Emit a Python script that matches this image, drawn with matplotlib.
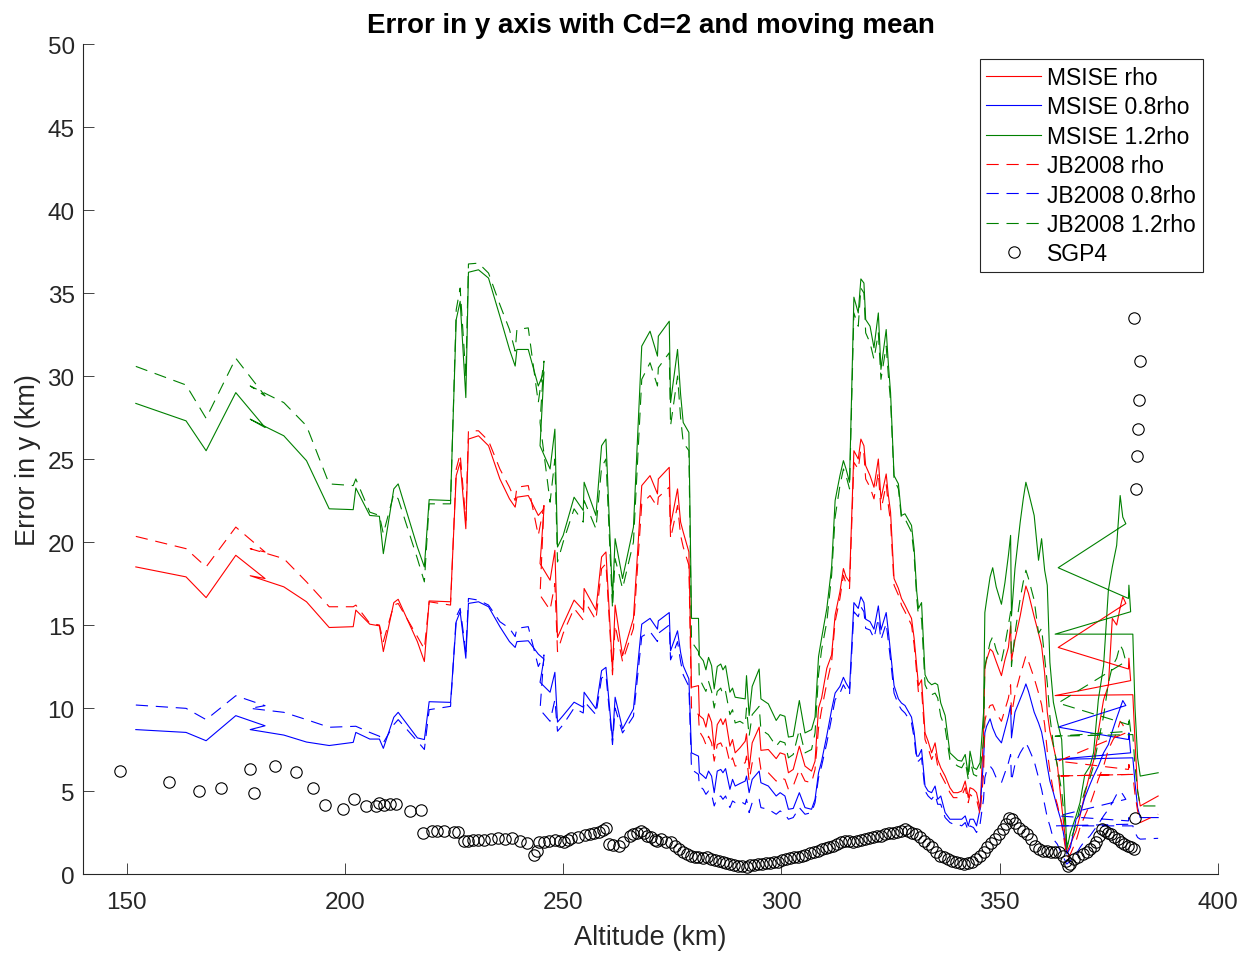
import matplotlib.pyplot as plt

plt.rcParams['font.family'] = ['Liberation Sans', 'DejaVu Sans']

# Moving-mean altitude (km) shared by the six density runs
alt = [
    # 150-225 km
    152.1, 163.6, 168.2, 175.0, 181.7, 178.3, 186.0, 191.2, 196.4, 201.9,
    202.5, 205.7, 207.9, 208.8, 211.2, 212.2, 216.6, 218.2, 219.3, 224.2,
    # 225-281 km
    225.5, 226.4, 227.7, 228.3, 230.6, 232.9, 235.5, 237.7, 239.0, 239.4,
    242.0, 244.3, 245.6, 244.7, 247.0, 248.1, 248.7, 250.0, 252.5, 254.6,
    254.8, 257.5, 258.8, 259.8, 261.3, 261.9, 263.6, 266.1, 268.0, 269.9,
    271.6, 271.8, 274.3, 274.6, 276.2, 276.9, 277.5, 278.8, 279.4, 281.0,
    # 281-311 km
    281.2, 282.1, 282.7, 283.3, 284.0, 284.6, 285.3, 286.1, 286.6, 287.2,
    288.2, 288.8, 289.4, 290.5, 291.7, 292.0, 292.6, 293.3, 294.9, 295.3,
    297.0, 298.8, 299.7, 300.8, 301.6, 302.7, 304.1, 305.4, 306.9, 307.7,
    308.5, 309.2, 310.4,
    # 311-331 km
    311.5, 312.3, 313.4, 314.2, 314.8, 315.6, 316.6, 317.6, 318.2, 318.9,
    319.3, 320.3, 321.2, 322.2, 322.8, 324.0, 324.5, 325.0, 325.8, 326.8,
    327.5, 328.3, 329.8, 330.4, 331.0,
    # 331-365 km
    331.4, 332.1, 332.9, 333.6, 334.4, 335.2, 335.8, 336.5, 337.5, 338.6,
    339.4, 340.4, 341.3, 342.1, 342.8, 343.2, 344.0, 344.7, 345.5, 346.3,
    346.6, 347.0, 347.8, 348.4, 349.2, 350.4, 351.2, 352.0, 352.5, 352.7,
    353.5, 354.7, 355.4, 356.0, 356.6, 357.9, 358.9, 359.6, 360.3, 360.9,
    361.5, 362.3, 363.2, 364.2, 365.4,
    # end of arc, altitude jumps back and forth
    366.2, 367.5, 368.4, 369.5, 370.7, 371.5, 372.6, 373.8, 374.9, 375.8,
    376.8, 377.6, 378.2, 378.9, 363.4, 379.5, 379.6, 380.0, 362.7, 380.5,
    381.0, 381.6, 382.2, 386.3,
]

msise_rho = [
    18.5, 17.9, 16.65, 19.2, 17.8, 17.97, 17.3, 16.4, 14.85, 14.9,
    15.9, 15.05, 14.95, 13.4, 16.35, 16.55, 14.0, 12.8, 16.45, 16.4,
    24.0, 24.8, 20.8, 26.2, 26.4, 25.8, 23.8, 22.6, 22.1, 22.7,
    22.8, 21.6, 22.0, 18.7, 17.7, 19.5, 14.25, 15.05, 16.5, 15.9,
    17.2, 15.9, 19.1, 19.4, 12.25, 16.2, 13.15, 15.4, 23.4, 24.0,
    22.9, 23.8, 24.5, 21.0, 23.2, 21.2, 20.6, 19.4, 11.25, 11.35,
    9.55, 9.35, 8.85, 9.65, 9.15, 7.5, 9.0, 9.35, 9.0, 9.35,
    7.7, 8.1, 7.3, 7.6, 8.0, 8.45, 6.35, 7.9, 8.85, 7.45,
    7.5, 6.95, 7.3, 7.2, 6.1, 6.3, 7.7, 6.5, 6.2, 6.8,
    10.0, 10.6, 12.4,
    13.2, 15.6, 17.0, 18.4, 17.9, 17.6, 25.5, 25.0, 26.2, 25.8,
    24.6, 24.0, 23.3, 25.0, 22.6, 24.1, 22.8, 21.8, 17.8, 17.2,
    16.6, 16.2, 15.4, 14.2, 12.5,
    11.35, 11.7, 8.5, 8.0, 7.3, 7.9, 6.9, 6.4, 5.9, 5.2,
    4.9, 4.9, 5.0, 5.6, 4.6, 5.2, 5.1, 4.9, 3.9, 8.5,
    12.35, 12.9, 13.55, 13.4, 12.8, 11.95, 12.9, 13.65, 14.95, 12.85,
    14.1, 15.55, 16.55, 17.35, 16.9, 15.5, 14.5, 13.75, 12.1, 9.75,
    8.6, 7.7, 6.6, 4.1, 1.3,
    1.8, 2.6, 3.5, 4.8, 6.1, 6.8, 8.6, 10.5, 11.35, 15.4,
    15.0, 16.05, 16.7, 16.3, 13.65, 12.35, 13.0, 11.65, 10.75, 10.8,
    8.0, 5.0, 4.1, 4.7,
]

msise_08 = [
    8.7, 8.53, 8.03, 9.54, 8.93, 8.7, 8.37, 7.95, 7.74, 7.93,
    8.53, 8.13, 8.13, 7.57, 9.44, 9.74, 8.2, 8.1, 10.38, 10.34,
    15.2, 15.8, 13.0, 16.3, 16.4, 16.1, 14.9, 14.0, 13.65, 14.0,
    14.05, 13.25, 12.95, 11.55, 10.95, 12.15, 9.15, 9.55, 10.35, 10.05,
    10.95, 9.95, 12.25, 12.45, 8.05, 10.65, 8.75, 9.95, 15.05, 15.4,
    14.75, 15.25, 15.75, 13.45, 14.65, 13.35, 12.55, 11.75, 7.3, 7.1,
    6.1, 5.9, 5.75, 6.2, 5.9, 4.9, 6.2, 6.3, 6.1, 6.35,
    5.1, 5.7, 5.3, 5.45, 5.6, 5.9, 4.9, 5.7, 6.2, 5.5,
    5.3, 4.7, 4.9, 4.7, 3.9, 3.95, 4.9, 4.0, 3.9, 4.5,
    6.1, 6.8, 8.35,
    9.9, 10.9, 11.3, 11.85, 11.5, 11.15, 16.35, 16.0, 16.7, 16.35,
    15.35, 15.2, 14.75, 16.15, 14.7, 15.75, 14.6, 13.35, 11.35, 10.55,
    10.3, 10.15, 9.45, 8.55, 7.1,
    7.1, 7.5, 5.3, 5.0, 4.9, 5.3, 4.5, 4.7, 3.7, 3.3,
    3.3, 3.3, 3.3, 3.5, 2.9, 3.3, 3.3, 2.9, 3.9, 6.9,
    8.5, 8.9, 9.35, 8.8, 8.3, 7.9, 8.7, 9.5, 10.15, 8.2,
    9.75, 10.55, 11.0, 11.45, 11.0, 9.75, 9.1, 8.55, 7.55, 6.5,
    5.6, 4.9, 4.0, 3.1, 1.2,
    1.6, 3.3, 3.6, 4.6, 5.4, 5.9, 6.5, 7.3, 7.8, 8.6,
    9.4, 10.0, 10.45, 10.15, 8.85, 8.1, 8.5, 7.3, 6.9, 7.0,
    5.5, 4.0, 3.4, 3.4,
]

msise_12 = [
    28.35, 27.3, 25.5, 29.0, 26.9, 27.4, 26.4, 24.9, 22.0, 21.95,
    23.25, 21.6, 21.55, 19.3, 23.2, 23.5, 19.7, 18.5, 22.55, 22.5,
    33.4, 34.5, 28.7, 36.25, 36.4, 35.9, 33.6, 31.6, 30.6, 31.6,
    31.6, 29.4, 30.25, 25.8, 24.4, 26.8, 19.7, 20.4, 22.7, 21.9,
    23.6, 21.6, 25.8, 26.2, 16.6, 20.2, 17.8, 20.9, 31.8, 32.7,
    31.2, 32.4, 33.3, 28.4, 31.6, 28.9, 27.2, 26.6, 15.4, 15.4,
    13.15, 12.85, 12.3, 13.05, 12.55, 11.15, 12.5, 12.65, 12.3, 12.55,
    10.95, 11.2, 10.65, 10.6, 10.55, 11.95, 9.55, 11.3, 12.35, 10.55,
    10.25, 9.25, 9.6, 9.5, 8.25, 8.3, 10.45, 8.5, 8.7, 9.45,
    13.1, 14.2, 16.0,
    18.5, 22.5, 24.0, 24.9, 24.4, 23.6, 34.75, 33.8, 35.85, 35.6,
    33.4, 33.0, 31.7, 33.8, 30.4, 32.8, 30.7, 29.0, 24.0, 23.5,
    21.6, 21.7, 21.0, 19.6, 17.0,
    16.0, 16.35, 12.0, 11.6, 11.4, 11.5, 11.4, 10.3, 9.55, 7.3,
    7.1, 6.85, 6.8, 7.2, 6.0, 7.4, 6.4, 6.3, 6.7, 9.7,
    15.75, 16.5, 17.9, 18.45, 17.3, 16.25, 17.55, 19.2, 20.4, 15.55,
    18.4, 21.2, 22.6, 23.6, 23.0, 21.6, 18.9, 20.2, 18.3, 17.4,
    12.75, 10.35, 9.2, 8.1, 1.5,
    2.5, 3.5, 4.3, 6.0, 6.5, 7.3, 10.5, 12.55, 17.1, 18.5,
    19.8, 22.8, 21.5, 21.1, 18.45, 16.6, 17.4, 15.8, 14.45, 14.45,
    10.0, 7.0, 5.9, 6.1,
]

jb_rho = [
    20.34, 19.6, 18.5, 20.9, 19.4, 19.6, 19.0, 17.6, 16.1, 16.1,
    16.2, 15.1, 15.0, 14.0, 16.2, 16.3, 14.3, 13.55, 16.4, 16.2,
    24.4, 25.3, 21.3, 26.7, 26.7, 26.1, 24.4, 23.3, 22.5, 23.3,
    23.4, 20.4, 22.2, 16.8, 15.9, 17.5, 13.4, 14.5, 16.0, 15.3,
    16.5, 15.3, 18.4, 18.7, 12.0, 15.0, 12.8, 14.8, 22.3, 22.8,
    22.1, 22.7, 23.3, 20.2, 22.2, 20.4, 19.7, 18.6, 10.0, 9.6,
    8.6, 8.2, 7.8, 8.3, 7.9, 6.8, 7.8, 7.9, 7.6, 7.8,
    6.7, 7.0, 6.5, 6.6, 6.7, 7.1, 5.6, 6.7, 7.0, 6.3,
    6.1, 5.6, 5.8, 5.7, 5.1, 5.3, 6.3, 5.6, 5.5, 6.3,
    8.8, 9.9, 11.5,
    12.8, 15.2, 16.6, 18.0, 17.5, 17.2, 24.8, 24.4, 25.6, 25.3,
    23.8, 23.3, 22.6, 24.2, 21.9, 23.5, 22.2, 21.2, 17.4, 16.8,
    16.2, 15.8, 15.0, 13.8, 12.1,
    10.9, 11.1, 8.1, 7.6, 6.9, 7.4, 6.5, 6.0, 5.5, 4.9,
    4.6, 4.6, 4.7, 5.2, 4.3, 4.8, 4.6, 4.5, 3.6, 6.0,
    9.2, 9.7, 10.15, 10.2, 9.7, 9.2, 9.9, 10.6, 11.4, 9.6,
    10.8, 12.0, 12.6, 13.15, 12.8, 11.8, 10.9, 10.2, 9.0, 7.4,
    6.2, 5.0, 4.2, 3.0, 1.0,
    1.2, 2.0, 2.8, 3.5, 4.2, 4.8, 5.7, 6.5, 7.5, 8.0,
    8.5, 9.2, 9.0, 8.5, 6.8, 6.3, 6.6, 6.0, 5.9, 6.0,
    4.8, 3.8, 3.1, 3.6,
]

jb_08 = [
    10.18, 9.98, 9.3, 10.74, 10.14, 9.98, 9.74, 9.3, 8.84, 8.9,
    8.9, 8.53, 8.3, 7.9, 9.0, 9.3, 8.0, 7.5, 9.9, 10.1,
    15.5, 16.0, 13.4, 16.6, 16.5, 16.2, 15.2, 14.8, 14.3, 14.8,
    14.9, 12.5, 13.2, 9.9, 9.2, 10.5, 8.6, 9.0, 10.0, 9.7,
    10.4, 9.6, 11.8, 12.0, 7.8, 10.0, 8.5, 9.5, 14.3, 14.6,
    14.0, 14.5, 15.0, 12.9, 14.0, 12.8, 12.0, 11.3, 6.3, 6.0,
    5.3, 5.1, 4.8, 5.0, 4.8, 4.1, 4.6, 4.7, 4.5, 4.7,
    4.0, 4.4, 4.3, 4.4, 4.2, 4.5, 3.7, 4.3, 4.5, 4.0,
    3.9, 3.6, 3.8, 3.6, 3.3, 3.4, 4.0, 3.6, 3.7, 4.3,
    5.8, 6.5, 7.9,
    9.4, 10.5, 10.9, 11.4, 11.1, 10.8, 15.8, 15.5, 16.1, 15.8,
    14.8, 14.7, 14.2, 15.4, 14.1, 15.1, 14.0, 12.9, 10.9, 10.2,
    9.9, 9.7, 9.1, 8.2, 6.8,
    6.8, 7.0, 5.0, 4.7, 4.5, 4.8, 4.2, 4.2, 3.4, 3.1,
    3.0, 3.0, 2.9, 3.1, 2.6, 2.9, 2.8, 2.5, 3.0, 4.5,
    5.8, 6.2, 6.5, 6.3, 5.8, 5.5, 6.1, 6.7, 7.2, 5.6,
    6.6, 7.3, 7.6, 7.9, 7.6, 6.8, 5.8, 5.1, 4.2, 3.4,
    2.9, 2.1, 1.8, 1.2, 0.6,
    0.8, 1.2, 1.6, 2.0, 2.3, 2.6, 3.0, 3.5, 3.9, 4.3,
    4.8, 5.0, 4.8, 4.5, 3.5, 3.2, 3.4, 3.0, 2.9, 2.9,
    2.5, 2.2, 2.1, 2.15,
]

jb_12 = [
    30.58, 29.46, 27.45, 31.07, 28.8, 29.4, 28.4, 27.0, 23.5, 23.4,
    23.8, 21.8, 21.6, 20.5, 22.9, 22.6, 19.0, 17.6, 22.3, 22.3,
    34.0, 35.3, 30.0, 36.75, 36.8, 36.2, 34.3, 32.8, 31.5, 32.8,
    32.9, 28.4, 30.9, 27.2, 22.4, 25.0, 18.8, 20.0, 22.0, 21.2,
    22.5, 20.8, 24.5, 25.0, 16.0, 19.0, 17.2, 20.0, 29.8, 30.8,
    29.4, 30.5, 31.4, 27.0, 30.0, 27.5, 26.0, 25.5, 14.0, 13.4,
    11.8, 11.3, 11.0, 11.6, 11.0, 10.0, 11.0, 11.2, 10.8, 11.0,
    9.6, 9.9, 9.1, 9.2, 9.0, 10.0, 8.3, 9.6, 10.1, 8.7,
    8.4, 7.7, 8.0, 7.9, 7.0, 7.2, 8.7, 7.3, 7.5, 8.5,
    12.0, 13.5, 15.2,
    18.0, 21.5, 23.4, 24.4, 24.0, 23.2, 33.8, 33.0, 35.3, 35.0,
    32.6, 32.0, 31.0, 32.6, 29.8, 31.8, 30.0, 28.5, 23.8, 23.2,
    21.4, 21.4, 20.6, 19.2, 16.6,
    15.5, 15.4, 11.4, 11.0, 10.8, 10.9, 10.6, 9.5, 8.8, 6.9,
    6.7, 6.5, 6.4, 6.8, 5.7, 6.9, 6.0, 5.9, 6.2, 8.0,
    12.5, 13.0, 13.95, 14.3, 13.5, 12.8, 13.8, 15.0, 15.8, 12.5,
    14.5, 16.6, 17.6, 18.3, 17.8, 16.5, 14.5, 14.8, 13.0, 11.5,
    9.5, 7.8, 6.5, 5.0, 1.8,
    2.0, 3.0, 4.0, 5.0, 5.8, 6.5, 8.0, 9.5, 11.5, 12.5,
    13.0, 13.8, 13.5, 12.8, 10.3, 9.0, 9.5, 8.6, 8.3, 8.4,
    6.5, 5.0, 4.1, 4.1,
]

# SGP4 error at the TLE epochs
sgp4_alt = [
    148.5, 159.7, 166.5, 171.5, 178.3, 179.2, 184.0, 188.7, 192.7, 195.4,
    199.6, 202.0, 204.8, 207.1, 207.9, 209.0, 210.3, 211.7, 214.8, 217.5,
    218.0, 219.9, 221.2, 222.8, 225.1, 225.9, 227.3, 228.2, 229.3, 230.5,
    231.8, 233.5, 235.1, 236.7, 238.3, 240.0, 241.6, 243.4, 243.9, 244.4,
    245.5, 246.8, 248.1, 249.2, 250.2, 251.0, 251.8, 253.5, 255.1, 256.2,
    257.1, 258.3, 259.2, 259.8, 260.4, 261.5, 262.9, 263.8, 265.3, 266.1,
    266.9, 267.8, 268.6, 269.3, 270.1, 271.0, 271.6, 272.5, 273.5, 274.8,
    275.6, 276.6, 277.5, 278.4, 279.3, 280.2, 281.0, 282.0, 282.9, 283.8,
    284.7, 285.6, 286.5, 287.4, 288.3, 289.2, 290.1, 291.0, 292.0, 292.9,
    293.8, 294.7, 295.6, 296.5, 297.4, 298.3, 299.2, 300.1, 301.0, 301.9,
    302.8, 303.7, 304.6, 305.5, 306.5, 307.4, 308.3, 309.2, 310.1, 311.0,
    311.9, 312.8, 313.7, 314.6, 315.5, 316.4, 317.3, 318.2, 319.1, 320.0,
    321.0, 321.9, 322.8, 323.7, 324.6, 325.5, 326.4, 327.3, 328.2, 329.1,
    330.0, 330.9, 331.8, 332.7, 333.6, 334.5, 335.4, 336.3, 337.2, 338.2,
    339.1, 340.0, 340.9, 341.8, 342.7, 343.6, 344.5, 345.4, 346.3, 347.2,
    348.1, 349.0, 349.9, 350.8, 351.5, 352.2, 352.9, 353.6, 354.4, 355.3,
    356.3, 357.2, 358.1, 359.0, 359.9, 360.8, 361.7, 362.6, 363.5, 364.4,
    365.3, 365.6, 366.2, 367.1, 368.0, 369.0, 369.9, 370.8, 371.5, 372.1,
    372.8, 373.5, 374.2, 374.9, 375.5, 376.2, 377.0, 377.8, 378.5, 379.3,
    380.0, 380.7, 380.9, 381.2, 381.4, 381.8, 381.9, 382.2, 380.8, 385.6,
]

sgp4_err = [
    6.19, 5.52, 5.0, 5.18, 6.34, 4.88, 6.49, 6.16, 5.18, 4.18,
    3.92, 4.5, 4.11, 4.11, 4.28, 4.15, 4.19, 4.19, 3.8, 3.87,
    2.47, 2.61, 2.6, 2.61, 2.55, 2.51, 2.01, 2.0, 2.07, 2.03,
    2.07, 2.1, 2.19, 2.1, 2.15, 2.0, 1.87, 1.14, 1.4, 1.94,
    1.95, 2.0, 2.07, 2.0, 1.94, 2.05, 2.15, 2.2, 2.35, 2.4,
    2.47, 2.55, 2.67, 2.75, 1.81, 1.75, 1.67, 1.9, 2.31, 2.4,
    2.47, 2.6, 2.5, 2.3, 2.2, 2.05, 2.0, 2.1, 1.95, 1.9,
    1.7, 1.5, 1.3, 1.2, 1.1, 1.0, 1.05, 0.95, 1.0, 0.9,
    0.85, 0.8, 0.7, 0.65, 0.6, 0.55, 0.5, 0.5, 0.45, 0.55,
    0.55, 0.6, 0.6, 0.65, 0.65, 0.7, 0.75, 0.85, 0.9, 0.95,
    1.0, 1.0, 1.1, 1.15, 1.25, 1.3, 1.4, 1.5, 1.55, 1.6,
    1.7, 1.8, 1.9, 2.0, 2.0, 1.95, 2.0, 2.05, 2.1, 2.15,
    2.2, 2.3, 2.3, 2.4, 2.45, 2.5, 2.55, 2.6, 2.7, 2.6,
    2.5, 2.4, 2.2, 2.0, 1.8, 1.6, 1.35, 1.1, 1.0, 0.9,
    0.8, 0.7, 0.65, 0.6, 0.65, 0.75, 0.9, 1.1, 1.35, 1.6,
    1.85, 2.1, 2.4, 2.7, 3.0, 3.4, 3.3, 3.1, 2.8, 2.6,
    2.4, 2.1, 1.7, 1.5, 1.4, 1.4, 1.3, 1.3, 1.3, 1.1,
    0.8, 0.5, 0.6, 0.9, 1.0, 1.2, 1.3, 1.5, 1.7, 1.9,
    2.3, 2.7, 2.6, 2.5, 2.4, 2.2, 2.1, 1.9, 1.8, 1.7,
    1.6, 1.5, 3.4, 23.2, 25.2, 26.8, 28.55, 30.9, 33.5, 36.6,
]

for series in (msise_rho, msise_08, msise_12, jb_rho, jb_08, jb_12):
    assert len(series) == len(alt), len(series)
assert len(sgp4_alt) == len(sgp4_err)

AX_COLOR = '#262626'
DASH = (0, (11, 7))

fig = plt.figure(figsize=(12.52, 9.54), dpi=100)
ax = fig.add_axes([0.0663, 0.0828, 0.9065, 0.870])

ax.plot(alt, msise_rho, color='#ff0000', lw=0.8, label='MSISE rho')
ax.plot(alt, msise_08, color='#0000ff', lw=0.8, label='MSISE 0.8rho')
ax.plot(alt, msise_12, color='#008000', lw=0.8, label='MSISE 1.2rho')
ax.plot(alt, jb_rho, color='#ff0000', lw=0.8, ls=DASH, label='JB2008 rho')
ax.plot(alt, jb_08, color='#0000ff', lw=0.8, ls=DASH, label='JB2008 0.8rho')
ax.plot(alt, jb_12, color='#008000', lw=0.8, ls=DASH, label='JB2008 1.2rho')
ax.plot(sgp4_alt, sgp4_err, 'o', mfc='none', mec='black', ms=8.2, mew=0.8,
        label='SGP4')

ax.set_xlim(140, 400)
ax.set_ylim(0, 50)
ax.set_xticks(range(150, 401, 50))
ax.set_yticks(range(0, 51, 5))

for side in ('top', 'right'):
    ax.spines[side].set_visible(False)
for side in ('left', 'bottom'):
    ax.spines[side].set_color(AX_COLOR)
    ax.spines[side].set_linewidth(0.8)
ax.tick_params(direction='in', length=8, width=0.6, color=AX_COLOR,
               labelcolor=AX_COLOR, labelsize=17.5)
ax.tick_params(axis='x', pad=12)
ax.tick_params(axis='y', pad=6)

ax.set_xlabel('Altitude (km)', fontsize=19.5, color=AX_COLOR, labelpad=8)
ax.set_ylabel('Error in y (km)', fontsize=19.5, color=AX_COLOR, labelpad=5)
ax.set_title('Error in y axis with Cd=2 and moving mean', fontsize=20,
             fontweight='bold', color='black', pad=9)

leg = ax.legend(loc='upper right', bbox_to_anchor=(0.9868, 0.982),
                fontsize=16.5, frameon=True, fancybox=False, framealpha=1,
                edgecolor=AX_COLOR, handlelength=2.4, handletextpad=0.25,
                labelspacing=0.28, borderpad=0.3, borderaxespad=0)
leg.get_frame().set_linewidth(0.8)
leg.set_zorder(10)

fig.savefig('out.png', dpi=100)
